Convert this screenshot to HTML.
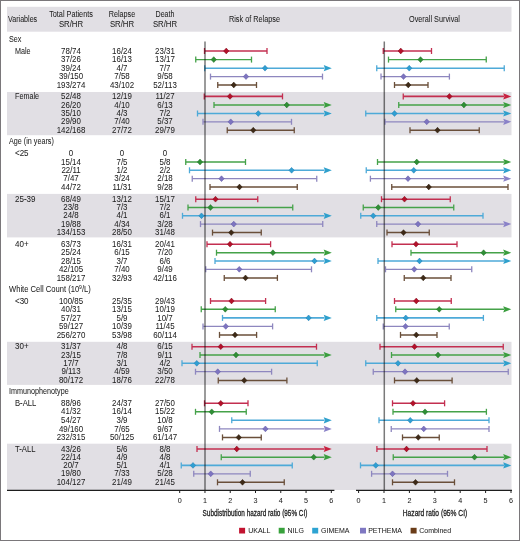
<!DOCTYPE html>
<html><head><meta charset="utf-8"><style>
html,body{margin:0;padding:0;}
body{width:520px;height:541px;position:relative;overflow:hidden;background:#fff;}
#frame{position:absolute;left:0;top:0;width:518px;height:539px;border:1px solid #7a777a;}
svg{position:absolute;left:0;top:0;}
.t,.tk,.lg,.ax{position:absolute;font-family:"Liberation Sans",sans-serif;color:#222;white-space:nowrap;line-height:0;height:0;-webkit-text-stroke:0.04px #222;}
.t{font-size:8.5px;}
.t.c,.tk.c{width:80px;text-align:center;}
.tk{font-size:7.2px;}
.lg{font-size:7px;}
.ax{font-size:9px;width:200px;text-align:center;transform:scaleX(0.71);-webkit-text-stroke:0.3px #222;}
sup{font-size:5.6px;vertical-align:0;position:relative;top:-2.8px;}
</style></head><body>
<svg width="520" height="541" viewBox="0 0 520 541">
<rect x="7" y="92.0" width="504.5" height="43.19999999999999" fill="#e1dfe4"/>
<rect x="7" y="193.9" width="504.5" height="43.5" fill="#e1dfe4"/>
<rect x="7" y="341.8" width="504.5" height="43.099999999999966" fill="#e1dfe4"/>
<rect x="7" y="443.7" width="504.5" height="46.30000000000001" fill="#e1dfe4"/>
<rect x="7" y="6.8" width="504.5" height="24.9" fill="#e1dfe4"/>
<line x1="204.5" y1="51" x2="267" y2="51" stroke="#c32f50" stroke-width="1.6"/>
<line x1="267" y1="48" x2="267" y2="54" stroke="#c32f50" stroke-width="1.3"/>
<line x1="204.5" y1="48" x2="204.5" y2="54" stroke="#c32f50" stroke-width="1.3"/>
<path d="M226.25 48.1 L228.918 51 L226.25 53.9 L223.582 51 Z" fill="#b5102a" stroke="#7a0a18" stroke-width="0.5"/>
<line x1="383.25" y1="51" x2="431.5" y2="51" stroke="#c32f50" stroke-width="1.6"/>
<line x1="431.5" y1="48" x2="431.5" y2="54" stroke="#c32f50" stroke-width="1.3"/>
<line x1="383.25" y1="48" x2="383.25" y2="54" stroke="#c32f50" stroke-width="1.3"/>
<path d="M400.75 48.1 L403.418 51 L400.75 53.9 L398.082 51 Z" fill="#b5102a" stroke="#7a0a18" stroke-width="0.5"/>
<line x1="195.75" y1="59.6" x2="251.5" y2="59.6" stroke="#45a249" stroke-width="1.4"/>
<line x1="251.5" y1="56.6" x2="251.5" y2="62.6" stroke="#45a249" stroke-width="1.3"/>
<line x1="195.75" y1="56.6" x2="195.75" y2="62.6" stroke="#45a249" stroke-width="1.3"/>
<path d="M213.75 56.7 L216.418 59.6 L213.75 62.5 L211.082 59.6 Z" fill="#2f8f35" stroke="#1f6a25" stroke-width="0.5"/>
<line x1="388.5" y1="59.6" x2="486.25" y2="59.6" stroke="#45a249" stroke-width="1.4"/>
<line x1="486.25" y1="56.6" x2="486.25" y2="62.6" stroke="#45a249" stroke-width="1.3"/>
<line x1="388.5" y1="56.6" x2="388.5" y2="62.6" stroke="#45a249" stroke-width="1.3"/>
<path d="M420.5 56.7 L423.168 59.6 L420.5 62.5 L417.832 59.6 Z" fill="#2f8f35" stroke="#1f6a25" stroke-width="0.5"/>
<line x1="204.75" y1="68.2" x2="324.5" y2="68.2" stroke="#4eaad8" stroke-width="1.6"/>
<path d="M331.8 68.2 L323.7 65.10000000000001 L324.9 68.2 L323.7 71.3 Z" fill="#2fa0cc"/>
<line x1="204.75" y1="65.2" x2="204.75" y2="71.2" stroke="#4eaad8" stroke-width="1.3"/>
<path d="M265 65.3 L267.668 68.2 L265 71.10000000000001 L262.332 68.2 Z" fill="#2f9fd2" stroke="#1f7ab0" stroke-width="0.5"/>
<line x1="376.75" y1="68.2" x2="504.25" y2="68.2" stroke="#4eaad8" stroke-width="1.6"/>
<line x1="504.25" y1="65.2" x2="504.25" y2="71.2" stroke="#4eaad8" stroke-width="1.3"/>
<line x1="376.75" y1="65.2" x2="376.75" y2="71.2" stroke="#4eaad8" stroke-width="1.3"/>
<path d="M409.25 65.3 L411.918 68.2 L409.25 71.10000000000001 L406.582 68.2 Z" fill="#2f9fd2" stroke="#1f7ab0" stroke-width="0.5"/>
<line x1="210.5" y1="76.6" x2="322.5" y2="76.6" stroke="#8e87bf" stroke-width="1.2"/>
<line x1="322.5" y1="73.6" x2="322.5" y2="79.6" stroke="#8e87bf" stroke-width="1.3"/>
<line x1="210.5" y1="73.6" x2="210.5" y2="79.6" stroke="#8e87bf" stroke-width="1.3"/>
<path d="M246 73.69999999999999 L248.668 76.6 L246 79.5 L243.332 76.6 Z" fill="#7d74c0" stroke="#5a52a0" stroke-width="0.5"/>
<line x1="381" y1="76.6" x2="449.4" y2="76.6" stroke="#8e87bf" stroke-width="1.2"/>
<line x1="449.4" y1="73.6" x2="449.4" y2="79.6" stroke="#8e87bf" stroke-width="1.3"/>
<line x1="381" y1="73.6" x2="381" y2="79.6" stroke="#8e87bf" stroke-width="1.3"/>
<path d="M403.5 73.69999999999999 L406.168 76.6 L403.5 79.5 L400.832 76.6 Z" fill="#7d74c0" stroke="#5a52a0" stroke-width="0.5"/>
<line x1="217.75" y1="85" x2="256.5" y2="85" stroke="#6a4f3a" stroke-width="1.5"/>
<line x1="256.5" y1="82" x2="256.5" y2="88" stroke="#6a4f3a" stroke-width="1.3"/>
<line x1="217.75" y1="82" x2="217.75" y2="88" stroke="#6a4f3a" stroke-width="1.3"/>
<path d="M233.75 82.1 L236.418 85 L233.75 87.9 L231.082 85 Z" fill="#3e2a17" stroke="#2a1a0a" stroke-width="0.5"/>
<line x1="394.5" y1="85" x2="428" y2="85" stroke="#6a4f3a" stroke-width="1.5"/>
<line x1="428" y1="82" x2="428" y2="88" stroke="#6a4f3a" stroke-width="1.3"/>
<line x1="394.5" y1="82" x2="394.5" y2="88" stroke="#6a4f3a" stroke-width="1.3"/>
<path d="M408.25 82.1 L410.918 85 L408.25 87.9 L405.582 85 Z" fill="#3e2a17" stroke="#2a1a0a" stroke-width="0.5"/>
<line x1="204.25" y1="96.4" x2="282.5" y2="96.4" stroke="#c32f50" stroke-width="1.6"/>
<line x1="282.5" y1="93.4" x2="282.5" y2="99.4" stroke="#c32f50" stroke-width="1.3"/>
<line x1="204.25" y1="93.4" x2="204.25" y2="99.4" stroke="#c32f50" stroke-width="1.3"/>
<path d="M230 93.5 L232.668 96.4 L230 99.30000000000001 L227.332 96.4 Z" fill="#b5102a" stroke="#7a0a18" stroke-width="0.5"/>
<line x1="403.25" y1="96.4" x2="504.0" y2="96.4" stroke="#c32f50" stroke-width="1.6"/>
<path d="M511.3 96.4 L503.2 93.30000000000001 L504.4 96.4 L503.2 99.5 Z" fill="#c8203e"/>
<line x1="403.25" y1="93.4" x2="403.25" y2="99.4" stroke="#c32f50" stroke-width="1.3"/>
<path d="M449.4 93.5 L452.068 96.4 L449.4 99.30000000000001 L446.73199999999997 96.4 Z" fill="#b5102a" stroke="#7a0a18" stroke-width="0.5"/>
<line x1="214" y1="105" x2="324.5" y2="105" stroke="#45a249" stroke-width="1.4"/>
<path d="M331.8 105 L323.7 101.9 L324.9 105 L323.7 108.1 Z" fill="#3a9e3e"/>
<line x1="214" y1="102" x2="214" y2="108" stroke="#45a249" stroke-width="1.3"/>
<path d="M286.75 102.1 L289.418 105 L286.75 107.9 L284.082 105 Z" fill="#2f8f35" stroke="#1f6a25" stroke-width="0.5"/>
<line x1="398.75" y1="105" x2="504.0" y2="105" stroke="#45a249" stroke-width="1.4"/>
<path d="M511.3 105 L503.2 101.9 L504.4 105 L503.2 108.1 Z" fill="#3a9e3e"/>
<line x1="398.75" y1="102" x2="398.75" y2="108" stroke="#45a249" stroke-width="1.3"/>
<path d="M463.9 102.1 L466.568 105 L463.9 107.9 L461.23199999999997 105 Z" fill="#2f8f35" stroke="#1f6a25" stroke-width="0.5"/>
<line x1="197.5" y1="113.5" x2="324.5" y2="113.5" stroke="#4eaad8" stroke-width="1.6"/>
<path d="M331.8 113.5 L323.7 110.4 L324.9 113.5 L323.7 116.6 Z" fill="#2fa0cc"/>
<line x1="197.5" y1="110.5" x2="197.5" y2="116.5" stroke="#4eaad8" stroke-width="1.3"/>
<path d="M258.25 110.6 L260.918 113.5 L258.25 116.4 L255.582 113.5 Z" fill="#2f9fd2" stroke="#1f7ab0" stroke-width="0.5"/>
<line x1="365.75" y1="113.5" x2="504.0" y2="113.5" stroke="#4eaad8" stroke-width="1.6"/>
<path d="M511.3 113.5 L503.2 110.4 L504.4 113.5 L503.2 116.6 Z" fill="#2fa0cc"/>
<line x1="365.75" y1="110.5" x2="365.75" y2="116.5" stroke="#4eaad8" stroke-width="1.3"/>
<path d="M394.5 110.6 L397.168 113.5 L394.5 116.4 L391.832 113.5 Z" fill="#2f9fd2" stroke="#1f7ab0" stroke-width="0.5"/>
<line x1="203" y1="121.8" x2="291.5" y2="121.8" stroke="#8e87bf" stroke-width="1.2"/>
<line x1="291.5" y1="118.8" x2="291.5" y2="124.8" stroke="#8e87bf" stroke-width="1.3"/>
<line x1="203" y1="118.8" x2="203" y2="124.8" stroke="#8e87bf" stroke-width="1.3"/>
<path d="M230.75 118.89999999999999 L233.418 121.8 L230.75 124.7 L228.082 121.8 Z" fill="#7d74c0" stroke="#5a52a0" stroke-width="0.5"/>
<line x1="385" y1="121.8" x2="504.0" y2="121.8" stroke="#8e87bf" stroke-width="1.2"/>
<path d="M511.3 121.8 L503.2 118.7 L504.4 121.8 L503.2 124.89999999999999 Z" fill="#8a82c8"/>
<line x1="385" y1="118.8" x2="385" y2="124.8" stroke="#8e87bf" stroke-width="1.3"/>
<path d="M426.75 118.89999999999999 L429.418 121.8 L426.75 124.7 L424.082 121.8 Z" fill="#7d74c0" stroke="#5a52a0" stroke-width="0.5"/>
<line x1="227.25" y1="130.2" x2="294.25" y2="130.2" stroke="#6a4f3a" stroke-width="1.5"/>
<line x1="294.25" y1="127.19999999999999" x2="294.25" y2="133.2" stroke="#6a4f3a" stroke-width="1.3"/>
<line x1="227.25" y1="127.19999999999999" x2="227.25" y2="133.2" stroke="#6a4f3a" stroke-width="1.3"/>
<path d="M253.25 127.29999999999998 L255.918 130.2 L253.25 133.1 L250.582 130.2 Z" fill="#3e2a17" stroke="#2a1a0a" stroke-width="0.5"/>
<line x1="410" y1="130.2" x2="479.25" y2="130.2" stroke="#6a4f3a" stroke-width="1.5"/>
<line x1="479.25" y1="127.19999999999999" x2="479.25" y2="133.2" stroke="#6a4f3a" stroke-width="1.3"/>
<line x1="410" y1="127.19999999999999" x2="410" y2="133.2" stroke="#6a4f3a" stroke-width="1.3"/>
<path d="M437.5 127.29999999999998 L440.168 130.2 L437.5 133.1 L434.832 130.2 Z" fill="#3e2a17" stroke="#2a1a0a" stroke-width="0.5"/>
<line x1="185.75" y1="162" x2="245.5" y2="162" stroke="#45a249" stroke-width="1.4"/>
<line x1="245.5" y1="159" x2="245.5" y2="165" stroke="#45a249" stroke-width="1.3"/>
<line x1="185.75" y1="159" x2="185.75" y2="165" stroke="#45a249" stroke-width="1.3"/>
<path d="M200 159.1 L202.668 162 L200 164.9 L197.332 162 Z" fill="#2f8f35" stroke="#1f6a25" stroke-width="0.5"/>
<line x1="377.5" y1="162" x2="504.0" y2="162" stroke="#45a249" stroke-width="1.4"/>
<path d="M511.3 162 L503.2 158.9 L504.4 162 L503.2 165.1 Z" fill="#3a9e3e"/>
<line x1="377.5" y1="159" x2="377.5" y2="165" stroke="#45a249" stroke-width="1.3"/>
<path d="M416.75 159.1 L419.418 162 L416.75 164.9 L414.082 162 Z" fill="#2f8f35" stroke="#1f6a25" stroke-width="0.5"/>
<line x1="189.5" y1="170.3" x2="324.5" y2="170.3" stroke="#4eaad8" stroke-width="1.6"/>
<path d="M331.8 170.3 L323.7 167.20000000000002 L324.9 170.3 L323.7 173.4 Z" fill="#2fa0cc"/>
<line x1="189.5" y1="167.3" x2="189.5" y2="173.3" stroke="#4eaad8" stroke-width="1.3"/>
<path d="M291.6 167.4 L294.26800000000003 170.3 L291.6 173.20000000000002 L288.932 170.3 Z" fill="#2f9fd2" stroke="#1f7ab0" stroke-width="0.5"/>
<line x1="366.25" y1="170.3" x2="504.0" y2="170.3" stroke="#4eaad8" stroke-width="1.6"/>
<path d="M511.3 170.3 L503.2 167.20000000000002 L504.4 170.3 L503.2 173.4 Z" fill="#2fa0cc"/>
<line x1="366.25" y1="167.3" x2="366.25" y2="173.3" stroke="#4eaad8" stroke-width="1.3"/>
<path d="M413.75 167.4 L416.418 170.3 L413.75 173.20000000000002 L411.082 170.3 Z" fill="#2f9fd2" stroke="#1f7ab0" stroke-width="0.5"/>
<line x1="192.25" y1="178.7" x2="316.75" y2="178.7" stroke="#8e87bf" stroke-width="1.2"/>
<line x1="316.75" y1="175.7" x2="316.75" y2="181.7" stroke="#8e87bf" stroke-width="1.3"/>
<line x1="192.25" y1="175.7" x2="192.25" y2="181.7" stroke="#8e87bf" stroke-width="1.3"/>
<path d="M221.5 175.79999999999998 L224.168 178.7 L221.5 181.6 L218.832 178.7 Z" fill="#7d74c0" stroke="#5a52a0" stroke-width="0.5"/>
<line x1="370.4" y1="178.7" x2="504.0" y2="178.7" stroke="#8e87bf" stroke-width="1.2"/>
<path d="M511.3 178.7 L503.2 175.6 L504.4 178.7 L503.2 181.79999999999998 Z" fill="#8a82c8"/>
<line x1="370.4" y1="175.7" x2="370.4" y2="181.7" stroke="#8e87bf" stroke-width="1.3"/>
<path d="M408 175.79999999999998 L410.668 178.7 L408 181.6 L405.332 178.7 Z" fill="#7d74c0" stroke="#5a52a0" stroke-width="0.5"/>
<line x1="210" y1="187" x2="297.25" y2="187" stroke="#6a4f3a" stroke-width="1.5"/>
<line x1="297.25" y1="184" x2="297.25" y2="190" stroke="#6a4f3a" stroke-width="1.3"/>
<line x1="210" y1="184" x2="210" y2="190" stroke="#6a4f3a" stroke-width="1.3"/>
<path d="M239.5 184.1 L242.168 187 L239.5 189.9 L236.832 187 Z" fill="#3e2a17" stroke="#2a1a0a" stroke-width="0.5"/>
<line x1="391.75" y1="187" x2="508" y2="187" stroke="#6a4f3a" stroke-width="1.5"/>
<line x1="508" y1="184" x2="508" y2="190" stroke="#6a4f3a" stroke-width="1.3"/>
<line x1="391.75" y1="184" x2="391.75" y2="190" stroke="#6a4f3a" stroke-width="1.3"/>
<path d="M428.75 184.1 L431.418 187 L428.75 189.9 L426.082 187 Z" fill="#3e2a17" stroke="#2a1a0a" stroke-width="0.5"/>
<line x1="195.75" y1="199.2" x2="257.75" y2="199.2" stroke="#c32f50" stroke-width="1.6"/>
<line x1="257.75" y1="196.2" x2="257.75" y2="202.2" stroke="#c32f50" stroke-width="1.3"/>
<line x1="195.75" y1="196.2" x2="195.75" y2="202.2" stroke="#c32f50" stroke-width="1.3"/>
<path d="M215.5 196.29999999999998 L218.168 199.2 L215.5 202.1 L212.832 199.2 Z" fill="#b5102a" stroke="#7a0a18" stroke-width="0.5"/>
<line x1="381.5" y1="199.2" x2="450.25" y2="199.2" stroke="#c32f50" stroke-width="1.6"/>
<line x1="450.25" y1="196.2" x2="450.25" y2="202.2" stroke="#c32f50" stroke-width="1.3"/>
<line x1="381.5" y1="196.2" x2="381.5" y2="202.2" stroke="#c32f50" stroke-width="1.3"/>
<path d="M404.5 196.29999999999998 L407.168 199.2 L404.5 202.1 L401.832 199.2 Z" fill="#b5102a" stroke="#7a0a18" stroke-width="0.5"/>
<line x1="188" y1="207.5" x2="292.75" y2="207.5" stroke="#45a249" stroke-width="1.4"/>
<line x1="292.75" y1="204.5" x2="292.75" y2="210.5" stroke="#45a249" stroke-width="1.3"/>
<line x1="188" y1="204.5" x2="188" y2="210.5" stroke="#45a249" stroke-width="1.3"/>
<path d="M210.5 204.6 L213.168 207.5 L210.5 210.4 L207.832 207.5 Z" fill="#2f8f35" stroke="#1f6a25" stroke-width="0.5"/>
<line x1="363.25" y1="207.5" x2="453.75" y2="207.5" stroke="#45a249" stroke-width="1.4"/>
<line x1="453.75" y1="204.5" x2="453.75" y2="210.5" stroke="#45a249" stroke-width="1.3"/>
<line x1="363.25" y1="204.5" x2="363.25" y2="210.5" stroke="#45a249" stroke-width="1.3"/>
<path d="M378.25 204.6 L380.918 207.5 L378.25 210.4 L375.582 207.5 Z" fill="#2f8f35" stroke="#1f6a25" stroke-width="0.5"/>
<line x1="182.5" y1="215.8" x2="324.5" y2="215.8" stroke="#4eaad8" stroke-width="1.6"/>
<path d="M331.8 215.8 L323.7 212.70000000000002 L324.9 215.8 L323.7 218.9 Z" fill="#2fa0cc"/>
<line x1="182.5" y1="212.8" x2="182.5" y2="218.8" stroke="#4eaad8" stroke-width="1.3"/>
<path d="M201.5 212.9 L204.168 215.8 L201.5 218.70000000000002 L198.832 215.8 Z" fill="#2f9fd2" stroke="#1f7ab0" stroke-width="0.5"/>
<line x1="360.75" y1="215.8" x2="483" y2="215.8" stroke="#4eaad8" stroke-width="1.6"/>
<line x1="483" y1="212.8" x2="483" y2="218.8" stroke="#4eaad8" stroke-width="1.3"/>
<line x1="360.75" y1="212.8" x2="360.75" y2="218.8" stroke="#4eaad8" stroke-width="1.3"/>
<path d="M373.25 212.9 L375.918 215.8 L373.25 218.70000000000002 L370.582 215.8 Z" fill="#2f9fd2" stroke="#1f7ab0" stroke-width="0.5"/>
<line x1="200.5" y1="224.1" x2="322.75" y2="224.1" stroke="#8e87bf" stroke-width="1.2"/>
<line x1="322.75" y1="221.1" x2="322.75" y2="227.1" stroke="#8e87bf" stroke-width="1.3"/>
<line x1="200.5" y1="221.1" x2="200.5" y2="227.1" stroke="#8e87bf" stroke-width="1.3"/>
<path d="M233.75 221.2 L236.418 224.1 L233.75 227.0 L231.082 224.1 Z" fill="#7d74c0" stroke="#5a52a0" stroke-width="0.5"/>
<line x1="376.75" y1="224.1" x2="504.0" y2="224.1" stroke="#8e87bf" stroke-width="1.2"/>
<path d="M511.3 224.1 L503.2 221.0 L504.4 224.1 L503.2 227.2 Z" fill="#8a82c8"/>
<line x1="376.75" y1="221.1" x2="376.75" y2="227.1" stroke="#8e87bf" stroke-width="1.3"/>
<path d="M418 221.2 L420.668 224.1 L418 227.0 L415.332 224.1 Z" fill="#7d74c0" stroke="#5a52a0" stroke-width="0.5"/>
<line x1="212.5" y1="232.6" x2="261.25" y2="232.6" stroke="#6a4f3a" stroke-width="1.5"/>
<line x1="261.25" y1="229.6" x2="261.25" y2="235.6" stroke="#6a4f3a" stroke-width="1.3"/>
<line x1="212.5" y1="229.6" x2="212.5" y2="235.6" stroke="#6a4f3a" stroke-width="1.3"/>
<path d="M231.25 229.7 L233.918 232.6 L231.25 235.5 L228.582 232.6 Z" fill="#3e2a17" stroke="#2a1a0a" stroke-width="0.5"/>
<line x1="387" y1="232.6" x2="429.25" y2="232.6" stroke="#6a4f3a" stroke-width="1.5"/>
<line x1="429.25" y1="229.6" x2="429.25" y2="235.6" stroke="#6a4f3a" stroke-width="1.3"/>
<line x1="387" y1="229.6" x2="387" y2="235.6" stroke="#6a4f3a" stroke-width="1.3"/>
<path d="M403.5 229.7 L406.168 232.6 L403.5 235.5 L400.832 232.6 Z" fill="#3e2a17" stroke="#2a1a0a" stroke-width="0.5"/>
<line x1="207" y1="244.2" x2="270.6" y2="244.2" stroke="#c32f50" stroke-width="1.6"/>
<line x1="270.6" y1="241.2" x2="270.6" y2="247.2" stroke="#c32f50" stroke-width="1.3"/>
<line x1="207" y1="241.2" x2="207" y2="247.2" stroke="#c32f50" stroke-width="1.3"/>
<path d="M230 241.29999999999998 L232.668 244.2 L230 247.1 L227.332 244.2 Z" fill="#b5102a" stroke="#7a0a18" stroke-width="0.5"/>
<line x1="392" y1="244.2" x2="457" y2="244.2" stroke="#c32f50" stroke-width="1.6"/>
<line x1="457" y1="241.2" x2="457" y2="247.2" stroke="#c32f50" stroke-width="1.3"/>
<line x1="392" y1="241.2" x2="392" y2="247.2" stroke="#c32f50" stroke-width="1.3"/>
<path d="M416 241.29999999999998 L418.668 244.2 L416 247.1 L413.332 244.2 Z" fill="#b5102a" stroke="#7a0a18" stroke-width="0.5"/>
<line x1="216.5" y1="252.7" x2="324.5" y2="252.7" stroke="#45a249" stroke-width="1.4"/>
<path d="M331.8 252.7 L323.7 249.6 L324.9 252.7 L323.7 255.79999999999998 Z" fill="#3a9e3e"/>
<line x1="216.5" y1="249.7" x2="216.5" y2="255.7" stroke="#45a249" stroke-width="1.3"/>
<path d="M272.9 249.79999999999998 L275.568 252.7 L272.9 255.6 L270.23199999999997 252.7 Z" fill="#2f8f35" stroke="#1f6a25" stroke-width="0.5"/>
<line x1="411" y1="252.7" x2="504.0" y2="252.7" stroke="#45a249" stroke-width="1.4"/>
<path d="M511.3 252.7 L503.2 249.6 L504.4 252.7 L503.2 255.79999999999998 Z" fill="#3a9e3e"/>
<line x1="411" y1="249.7" x2="411" y2="255.7" stroke="#45a249" stroke-width="1.3"/>
<path d="M483.6 249.79999999999998 L486.26800000000003 252.7 L483.6 255.6 L480.932 252.7 Z" fill="#2f8f35" stroke="#1f6a25" stroke-width="0.5"/>
<line x1="215" y1="261" x2="324.5" y2="261" stroke="#4eaad8" stroke-width="1.6"/>
<path d="M331.8 261 L323.7 257.9 L324.9 261 L323.7 264.1 Z" fill="#2fa0cc"/>
<line x1="215" y1="258" x2="215" y2="264" stroke="#4eaad8" stroke-width="1.3"/>
<path d="M314.5 258.1 L317.168 261 L314.5 263.9 L311.832 261 Z" fill="#2f9fd2" stroke="#1f7ab0" stroke-width="0.5"/>
<line x1="378" y1="261" x2="504.0" y2="261" stroke="#4eaad8" stroke-width="1.6"/>
<path d="M511.3 261 L503.2 257.9 L504.4 261 L503.2 264.1 Z" fill="#2fa0cc"/>
<line x1="378" y1="258" x2="378" y2="264" stroke="#4eaad8" stroke-width="1.3"/>
<path d="M419.5 258.1 L422.168 261 L419.5 263.9 L416.832 261 Z" fill="#2f9fd2" stroke="#1f7ab0" stroke-width="0.5"/>
<line x1="205.75" y1="269.3" x2="311.5" y2="269.3" stroke="#8e87bf" stroke-width="1.2"/>
<line x1="311.5" y1="266.3" x2="311.5" y2="272.3" stroke="#8e87bf" stroke-width="1.3"/>
<line x1="205.75" y1="266.3" x2="205.75" y2="272.3" stroke="#8e87bf" stroke-width="1.3"/>
<path d="M239.25 266.40000000000003 L241.918 269.3 L239.25 272.2 L236.582 269.3 Z" fill="#7d74c0" stroke="#5a52a0" stroke-width="0.5"/>
<line x1="385.5" y1="269.3" x2="471.75" y2="269.3" stroke="#8e87bf" stroke-width="1.2"/>
<line x1="471.75" y1="266.3" x2="471.75" y2="272.3" stroke="#8e87bf" stroke-width="1.3"/>
<line x1="385.5" y1="266.3" x2="385.5" y2="272.3" stroke="#8e87bf" stroke-width="1.3"/>
<path d="M414.25 266.40000000000003 L416.918 269.3 L414.25 272.2 L411.582 269.3 Z" fill="#7d74c0" stroke="#5a52a0" stroke-width="0.5"/>
<line x1="224.25" y1="277.9" x2="277.4" y2="277.9" stroke="#6a4f3a" stroke-width="1.5"/>
<line x1="277.4" y1="274.9" x2="277.4" y2="280.9" stroke="#6a4f3a" stroke-width="1.3"/>
<line x1="224.25" y1="274.9" x2="224.25" y2="280.9" stroke="#6a4f3a" stroke-width="1.3"/>
<path d="M245.5 275.0 L248.168 277.9 L245.5 280.79999999999995 L242.832 277.9 Z" fill="#3e2a17" stroke="#2a1a0a" stroke-width="0.5"/>
<line x1="404.25" y1="277.9" x2="451" y2="277.9" stroke="#6a4f3a" stroke-width="1.5"/>
<line x1="451" y1="274.9" x2="451" y2="280.9" stroke="#6a4f3a" stroke-width="1.3"/>
<line x1="404.25" y1="274.9" x2="404.25" y2="280.9" stroke="#6a4f3a" stroke-width="1.3"/>
<path d="M423.25 275.0 L425.918 277.9 L423.25 280.79999999999995 L420.582 277.9 Z" fill="#3e2a17" stroke="#2a1a0a" stroke-width="0.5"/>
<line x1="210.5" y1="301" x2="265.6" y2="301" stroke="#c32f50" stroke-width="1.6"/>
<line x1="265.6" y1="298" x2="265.6" y2="304" stroke="#c32f50" stroke-width="1.3"/>
<line x1="210.5" y1="298" x2="210.5" y2="304" stroke="#c32f50" stroke-width="1.3"/>
<path d="M231.5 298.1 L234.168 301 L231.5 303.9 L228.832 301 Z" fill="#b5102a" stroke="#7a0a18" stroke-width="0.5"/>
<line x1="394.5" y1="301" x2="451.25" y2="301" stroke="#c32f50" stroke-width="1.6"/>
<line x1="451.25" y1="298" x2="451.25" y2="304" stroke="#c32f50" stroke-width="1.3"/>
<line x1="394.5" y1="298" x2="394.5" y2="304" stroke="#c32f50" stroke-width="1.3"/>
<path d="M416.25 298.1 L418.918 301 L416.25 303.9 L413.582 301 Z" fill="#b5102a" stroke="#7a0a18" stroke-width="0.5"/>
<line x1="201.25" y1="309.3" x2="275.25" y2="309.3" stroke="#45a249" stroke-width="1.4"/>
<line x1="275.25" y1="306.3" x2="275.25" y2="312.3" stroke="#45a249" stroke-width="1.3"/>
<line x1="201.25" y1="306.3" x2="201.25" y2="312.3" stroke="#45a249" stroke-width="1.3"/>
<path d="M225.25 306.40000000000003 L227.918 309.3 L225.25 312.2 L222.582 309.3 Z" fill="#2f8f35" stroke="#1f6a25" stroke-width="0.5"/>
<line x1="395.75" y1="309.3" x2="504.0" y2="309.3" stroke="#45a249" stroke-width="1.4"/>
<path d="M511.3 309.3 L503.2 306.2 L504.4 309.3 L503.2 312.40000000000003 Z" fill="#3a9e3e"/>
<line x1="395.75" y1="306.3" x2="395.75" y2="312.3" stroke="#45a249" stroke-width="1.3"/>
<path d="M439.25 306.40000000000003 L441.918 309.3 L439.25 312.2 L436.582 309.3 Z" fill="#2f8f35" stroke="#1f6a25" stroke-width="0.5"/>
<line x1="222.5" y1="317.9" x2="324.5" y2="317.9" stroke="#4eaad8" stroke-width="1.6"/>
<path d="M331.8 317.9 L323.7 314.79999999999995 L324.9 317.9 L323.7 321.0 Z" fill="#2fa0cc"/>
<line x1="222.5" y1="314.9" x2="222.5" y2="320.9" stroke="#4eaad8" stroke-width="1.3"/>
<path d="M308.6 315.0 L311.26800000000003 317.9 L308.6 320.79999999999995 L305.932 317.9 Z" fill="#2f9fd2" stroke="#1f7ab0" stroke-width="0.5"/>
<line x1="376.75" y1="317.9" x2="483.4" y2="317.9" stroke="#4eaad8" stroke-width="1.6"/>
<line x1="483.4" y1="314.9" x2="483.4" y2="320.9" stroke="#4eaad8" stroke-width="1.3"/>
<line x1="376.75" y1="314.9" x2="376.75" y2="320.9" stroke="#4eaad8" stroke-width="1.3"/>
<path d="M405.75 315.0 L408.418 317.9 L405.75 320.79999999999995 L403.082 317.9 Z" fill="#2f9fd2" stroke="#1f7ab0" stroke-width="0.5"/>
<line x1="203" y1="326.4" x2="272.6" y2="326.4" stroke="#8e87bf" stroke-width="1.2"/>
<line x1="272.6" y1="323.4" x2="272.6" y2="329.4" stroke="#8e87bf" stroke-width="1.3"/>
<line x1="203" y1="323.4" x2="203" y2="329.4" stroke="#8e87bf" stroke-width="1.3"/>
<path d="M225.75 323.5 L228.418 326.4 L225.75 329.29999999999995 L223.082 326.4 Z" fill="#7d74c0" stroke="#5a52a0" stroke-width="0.5"/>
<line x1="383.25" y1="326.4" x2="449.25" y2="326.4" stroke="#8e87bf" stroke-width="1.2"/>
<line x1="449.25" y1="323.4" x2="449.25" y2="329.4" stroke="#8e87bf" stroke-width="1.3"/>
<line x1="383.25" y1="323.4" x2="383.25" y2="329.4" stroke="#8e87bf" stroke-width="1.3"/>
<path d="M405.5 323.5 L408.168 326.4 L405.5 329.29999999999995 L402.832 326.4 Z" fill="#7d74c0" stroke="#5a52a0" stroke-width="0.5"/>
<line x1="219.5" y1="334.9" x2="256.6" y2="334.9" stroke="#6a4f3a" stroke-width="1.5"/>
<line x1="256.6" y1="331.9" x2="256.6" y2="337.9" stroke="#6a4f3a" stroke-width="1.3"/>
<line x1="219.5" y1="331.9" x2="219.5" y2="337.9" stroke="#6a4f3a" stroke-width="1.3"/>
<path d="M235 332.0 L237.668 334.9 L235 337.79999999999995 L232.332 334.9 Z" fill="#3e2a17" stroke="#2a1a0a" stroke-width="0.5"/>
<line x1="400.5" y1="334.9" x2="437" y2="334.9" stroke="#6a4f3a" stroke-width="1.5"/>
<line x1="437" y1="331.9" x2="437" y2="337.9" stroke="#6a4f3a" stroke-width="1.3"/>
<line x1="400.5" y1="331.9" x2="400.5" y2="337.9" stroke="#6a4f3a" stroke-width="1.3"/>
<path d="M416.25 332.0 L418.918 334.9 L416.25 337.79999999999995 L413.582 334.9 Z" fill="#3e2a17" stroke="#2a1a0a" stroke-width="0.5"/>
<line x1="192" y1="346.7" x2="316.5" y2="346.7" stroke="#c32f50" stroke-width="1.6"/>
<line x1="316.5" y1="343.7" x2="316.5" y2="349.7" stroke="#c32f50" stroke-width="1.3"/>
<line x1="192" y1="343.7" x2="192" y2="349.7" stroke="#c32f50" stroke-width="1.3"/>
<path d="M220.75 343.8 L223.418 346.7 L220.75 349.59999999999997 L218.082 346.7 Z" fill="#b5102a" stroke="#7a0a18" stroke-width="0.5"/>
<line x1="380" y1="346.7" x2="503.25" y2="346.7" stroke="#c32f50" stroke-width="1.6"/>
<line x1="503.25" y1="343.7" x2="503.25" y2="349.7" stroke="#c32f50" stroke-width="1.3"/>
<line x1="380" y1="343.7" x2="380" y2="349.7" stroke="#c32f50" stroke-width="1.3"/>
<path d="M414.5 343.8 L417.168 346.7 L414.5 349.59999999999997 L411.832 346.7 Z" fill="#b5102a" stroke="#7a0a18" stroke-width="0.5"/>
<line x1="200" y1="355" x2="324.5" y2="355" stroke="#45a249" stroke-width="1.4"/>
<path d="M331.8 355 L323.7 351.9 L324.9 355 L323.7 358.1 Z" fill="#3a9e3e"/>
<line x1="200" y1="352" x2="200" y2="358" stroke="#45a249" stroke-width="1.3"/>
<path d="M236 352.1 L238.668 355 L236 357.9 L233.332 355 Z" fill="#2f8f35" stroke="#1f6a25" stroke-width="0.5"/>
<line x1="391.5" y1="355" x2="504.0" y2="355" stroke="#45a249" stroke-width="1.4"/>
<path d="M511.3 355 L503.2 351.9 L504.4 355 L503.2 358.1 Z" fill="#3a9e3e"/>
<line x1="391.5" y1="352" x2="391.5" y2="358" stroke="#45a249" stroke-width="1.3"/>
<path d="M438 352.1 L440.668 355 L438 357.9 L435.332 355 Z" fill="#2f8f35" stroke="#1f6a25" stroke-width="0.5"/>
<line x1="182" y1="363.3" x2="317.25" y2="363.3" stroke="#4eaad8" stroke-width="1.6"/>
<line x1="317.25" y1="360.3" x2="317.25" y2="366.3" stroke="#4eaad8" stroke-width="1.3"/>
<line x1="182" y1="360.3" x2="182" y2="366.3" stroke="#4eaad8" stroke-width="1.3"/>
<path d="M196.75 360.40000000000003 L199.418 363.3 L196.75 366.2 L194.082 363.3 Z" fill="#2f9fd2" stroke="#1f7ab0" stroke-width="0.5"/>
<line x1="365.75" y1="363.3" x2="504.0" y2="363.3" stroke="#4eaad8" stroke-width="1.6"/>
<path d="M511.3 363.3 L503.2 360.2 L504.4 363.3 L503.2 366.40000000000003 Z" fill="#2fa0cc"/>
<line x1="365.75" y1="360.3" x2="365.75" y2="366.3" stroke="#4eaad8" stroke-width="1.3"/>
<path d="M398 360.40000000000003 L400.668 363.3 L398 366.2 L395.332 363.3 Z" fill="#2f9fd2" stroke="#1f7ab0" stroke-width="0.5"/>
<line x1="195.5" y1="371.7" x2="271.6" y2="371.7" stroke="#8e87bf" stroke-width="1.2"/>
<line x1="271.6" y1="368.7" x2="271.6" y2="374.7" stroke="#8e87bf" stroke-width="1.3"/>
<line x1="195.5" y1="368.7" x2="195.5" y2="374.7" stroke="#8e87bf" stroke-width="1.3"/>
<path d="M217.75 368.8 L220.418 371.7 L217.75 374.59999999999997 L215.082 371.7 Z" fill="#7d74c0" stroke="#5a52a0" stroke-width="0.5"/>
<line x1="373.25" y1="371.7" x2="508.25" y2="371.7" stroke="#8e87bf" stroke-width="1.2"/>
<line x1="508.25" y1="368.7" x2="508.25" y2="374.7" stroke="#8e87bf" stroke-width="1.3"/>
<line x1="373.25" y1="368.7" x2="373.25" y2="374.7" stroke="#8e87bf" stroke-width="1.3"/>
<path d="M405 368.8 L407.668 371.7 L405 374.59999999999997 L402.332 371.7 Z" fill="#7d74c0" stroke="#5a52a0" stroke-width="0.5"/>
<line x1="218.25" y1="380.4" x2="286.9" y2="380.4" stroke="#6a4f3a" stroke-width="1.5"/>
<line x1="286.9" y1="377.4" x2="286.9" y2="383.4" stroke="#6a4f3a" stroke-width="1.3"/>
<line x1="218.25" y1="377.4" x2="218.25" y2="383.4" stroke="#6a4f3a" stroke-width="1.3"/>
<path d="M244.25 377.5 L246.918 380.4 L244.25 383.29999999999995 L241.582 380.4 Z" fill="#3e2a17" stroke="#2a1a0a" stroke-width="0.5"/>
<line x1="394.5" y1="380.4" x2="452.1" y2="380.4" stroke="#6a4f3a" stroke-width="1.5"/>
<line x1="452.1" y1="377.4" x2="452.1" y2="383.4" stroke="#6a4f3a" stroke-width="1.3"/>
<line x1="394.5" y1="377.4" x2="394.5" y2="383.4" stroke="#6a4f3a" stroke-width="1.3"/>
<path d="M416.75 377.5 L419.418 380.4 L416.75 383.29999999999995 L414.082 380.4 Z" fill="#3e2a17" stroke="#2a1a0a" stroke-width="0.5"/>
<line x1="204.5" y1="403.3" x2="248" y2="403.3" stroke="#c32f50" stroke-width="1.6"/>
<line x1="248" y1="400.3" x2="248" y2="406.3" stroke="#c32f50" stroke-width="1.3"/>
<line x1="204.5" y1="400.3" x2="204.5" y2="406.3" stroke="#c32f50" stroke-width="1.3"/>
<path d="M220.75 400.40000000000003 L223.418 403.3 L220.75 406.2 L218.082 403.3 Z" fill="#b5102a" stroke="#7a0a18" stroke-width="0.5"/>
<line x1="392.5" y1="403.3" x2="444.6" y2="403.3" stroke="#c32f50" stroke-width="1.6"/>
<line x1="444.6" y1="400.3" x2="444.6" y2="406.3" stroke="#c32f50" stroke-width="1.3"/>
<line x1="392.5" y1="400.3" x2="392.5" y2="406.3" stroke="#c32f50" stroke-width="1.3"/>
<path d="M413 400.40000000000003 L415.668 403.3 L413 406.2 L410.332 403.3 Z" fill="#b5102a" stroke="#7a0a18" stroke-width="0.5"/>
<line x1="195.5" y1="411.8" x2="246.25" y2="411.8" stroke="#45a249" stroke-width="1.4"/>
<line x1="246.25" y1="408.8" x2="246.25" y2="414.8" stroke="#45a249" stroke-width="1.3"/>
<line x1="195.5" y1="408.8" x2="195.5" y2="414.8" stroke="#45a249" stroke-width="1.3"/>
<path d="M211.75 408.90000000000003 L214.418 411.8 L211.75 414.7 L209.082 411.8 Z" fill="#2f8f35" stroke="#1f6a25" stroke-width="0.5"/>
<line x1="393" y1="411.8" x2="486.4" y2="411.8" stroke="#45a249" stroke-width="1.4"/>
<line x1="486.4" y1="408.8" x2="486.4" y2="414.8" stroke="#45a249" stroke-width="1.3"/>
<line x1="393" y1="408.8" x2="393" y2="414.8" stroke="#45a249" stroke-width="1.3"/>
<path d="M425 408.90000000000003 L427.668 411.8 L425 414.7 L422.332 411.8 Z" fill="#2f8f35" stroke="#1f6a25" stroke-width="0.5"/>
<line x1="231.75" y1="420.3" x2="324.5" y2="420.3" stroke="#4eaad8" stroke-width="1.6"/>
<path d="M331.8 420.3 L323.7 417.2 L324.9 420.3 L323.7 423.40000000000003 Z" fill="#2fa0cc"/>
<line x1="231.75" y1="417.3" x2="231.75" y2="423.3" stroke="#4eaad8" stroke-width="1.3"/>
<line x1="379" y1="420.3" x2="489" y2="420.3" stroke="#4eaad8" stroke-width="1.6"/>
<line x1="489" y1="417.3" x2="489" y2="423.3" stroke="#4eaad8" stroke-width="1.3"/>
<line x1="379" y1="417.3" x2="379" y2="423.3" stroke="#4eaad8" stroke-width="1.3"/>
<path d="M410.25 417.40000000000003 L412.918 420.3 L410.25 423.2 L407.582 420.3 Z" fill="#2f9fd2" stroke="#1f7ab0" stroke-width="0.5"/>
<line x1="219.5" y1="428.9" x2="324.5" y2="428.9" stroke="#8e87bf" stroke-width="1.2"/>
<path d="M331.8 428.9 L323.7 425.79999999999995 L324.9 428.9 L323.7 432.0 Z" fill="#8a82c8"/>
<line x1="219.5" y1="425.9" x2="219.5" y2="431.9" stroke="#8e87bf" stroke-width="1.3"/>
<path d="M265.4 426.0 L268.068 428.9 L265.4 431.79999999999995 L262.73199999999997 428.9 Z" fill="#7d74c0" stroke="#5a52a0" stroke-width="0.5"/>
<line x1="391.25" y1="428.9" x2="489" y2="428.9" stroke="#8e87bf" stroke-width="1.2"/>
<line x1="489" y1="425.9" x2="489" y2="431.9" stroke="#8e87bf" stroke-width="1.3"/>
<line x1="391.25" y1="425.9" x2="391.25" y2="431.9" stroke="#8e87bf" stroke-width="1.3"/>
<path d="M423.75 426.0 L426.418 428.9 L423.75 431.79999999999995 L421.082 428.9 Z" fill="#7d74c0" stroke="#5a52a0" stroke-width="0.5"/>
<line x1="222.5" y1="437.4" x2="261.25" y2="437.4" stroke="#6a4f3a" stroke-width="1.5"/>
<line x1="261.25" y1="434.4" x2="261.25" y2="440.4" stroke="#6a4f3a" stroke-width="1.3"/>
<line x1="222.5" y1="434.4" x2="222.5" y2="440.4" stroke="#6a4f3a" stroke-width="1.3"/>
<path d="M238.75 434.5 L241.418 437.4 L238.75 440.29999999999995 L236.082 437.4 Z" fill="#3e2a17" stroke="#2a1a0a" stroke-width="0.5"/>
<line x1="402.5" y1="437.4" x2="439.25" y2="437.4" stroke="#6a4f3a" stroke-width="1.5"/>
<line x1="439.25" y1="434.4" x2="439.25" y2="440.4" stroke="#6a4f3a" stroke-width="1.3"/>
<line x1="402.5" y1="434.4" x2="402.5" y2="440.4" stroke="#6a4f3a" stroke-width="1.3"/>
<path d="M418.25 434.5 L420.918 437.4 L418.25 440.29999999999995 L415.582 437.4 Z" fill="#3e2a17" stroke="#2a1a0a" stroke-width="0.5"/>
<line x1="197" y1="449" x2="324.5" y2="449" stroke="#c32f50" stroke-width="1.6"/>
<path d="M331.8 449 L323.7 445.9 L324.9 449 L323.7 452.1 Z" fill="#c8203e"/>
<line x1="197" y1="446" x2="197" y2="452" stroke="#c32f50" stroke-width="1.3"/>
<path d="M236.75 446.1 L239.418 449 L236.75 451.9 L234.082 449 Z" fill="#b5102a" stroke="#7a0a18" stroke-width="0.5"/>
<line x1="376.9" y1="449" x2="487" y2="449" stroke="#c32f50" stroke-width="1.6"/>
<line x1="487" y1="446" x2="487" y2="452" stroke="#c32f50" stroke-width="1.3"/>
<line x1="376.9" y1="446" x2="376.9" y2="452" stroke="#c32f50" stroke-width="1.3"/>
<path d="M406.5 446.1 L409.168 449 L406.5 451.9 L403.832 449 Z" fill="#b5102a" stroke="#7a0a18" stroke-width="0.5"/>
<line x1="221.25" y1="457.2" x2="324.5" y2="457.2" stroke="#45a249" stroke-width="1.4"/>
<path d="M331.8 457.2 L323.7 454.09999999999997 L324.9 457.2 L323.7 460.3 Z" fill="#3a9e3e"/>
<line x1="221.25" y1="454.2" x2="221.25" y2="460.2" stroke="#45a249" stroke-width="1.3"/>
<path d="M313.75 454.3 L316.418 457.2 L313.75 460.09999999999997 L311.082 457.2 Z" fill="#2f8f35" stroke="#1f6a25" stroke-width="0.5"/>
<line x1="393.25" y1="457.2" x2="504.0" y2="457.2" stroke="#45a249" stroke-width="1.4"/>
<path d="M511.3 457.2 L503.2 454.09999999999997 L504.4 457.2 L503.2 460.3 Z" fill="#3a9e3e"/>
<line x1="393.25" y1="454.2" x2="393.25" y2="460.2" stroke="#45a249" stroke-width="1.3"/>
<path d="M474.5 454.3 L477.168 457.2 L474.5 460.09999999999997 L471.832 457.2 Z" fill="#2f8f35" stroke="#1f6a25" stroke-width="0.5"/>
<line x1="181.25" y1="465.4" x2="292.25" y2="465.4" stroke="#4eaad8" stroke-width="1.6"/>
<line x1="292.25" y1="462.4" x2="292.25" y2="468.4" stroke="#4eaad8" stroke-width="1.3"/>
<line x1="181.25" y1="462.4" x2="181.25" y2="468.4" stroke="#4eaad8" stroke-width="1.3"/>
<path d="M193 462.5 L195.668 465.4 L193 468.29999999999995 L190.332 465.4 Z" fill="#2f9fd2" stroke="#1f7ab0" stroke-width="0.5"/>
<line x1="360.5" y1="465.4" x2="504.0" y2="465.4" stroke="#4eaad8" stroke-width="1.6"/>
<path d="M511.3 465.4 L503.2 462.29999999999995 L504.4 465.4 L503.2 468.5 Z" fill="#2fa0cc"/>
<line x1="360.5" y1="462.4" x2="360.5" y2="468.4" stroke="#4eaad8" stroke-width="1.3"/>
<path d="M375.75 462.5 L378.418 465.4 L375.75 468.29999999999995 L373.082 465.4 Z" fill="#2f9fd2" stroke="#1f7ab0" stroke-width="0.5"/>
<line x1="193.75" y1="473.8" x2="250.25" y2="473.8" stroke="#8e87bf" stroke-width="1.2"/>
<line x1="250.25" y1="470.8" x2="250.25" y2="476.8" stroke="#8e87bf" stroke-width="1.3"/>
<line x1="193.75" y1="470.8" x2="193.75" y2="476.8" stroke="#8e87bf" stroke-width="1.3"/>
<path d="M210.75 470.90000000000003 L213.418 473.8 L210.75 476.7 L208.082 473.8 Z" fill="#7d74c0" stroke="#5a52a0" stroke-width="0.5"/>
<line x1="371.6" y1="473.8" x2="447.5" y2="473.8" stroke="#8e87bf" stroke-width="1.2"/>
<line x1="447.5" y1="470.8" x2="447.5" y2="476.8" stroke="#8e87bf" stroke-width="1.3"/>
<line x1="371.6" y1="470.8" x2="371.6" y2="476.8" stroke="#8e87bf" stroke-width="1.3"/>
<path d="M392.5 470.90000000000003 L395.168 473.8 L392.5 476.7 L389.832 473.8 Z" fill="#7d74c0" stroke="#5a52a0" stroke-width="0.5"/>
<line x1="217.5" y1="482.3" x2="284.25" y2="482.3" stroke="#6a4f3a" stroke-width="1.5"/>
<line x1="284.25" y1="479.3" x2="284.25" y2="485.3" stroke="#6a4f3a" stroke-width="1.3"/>
<line x1="217.5" y1="479.3" x2="217.5" y2="485.3" stroke="#6a4f3a" stroke-width="1.3"/>
<path d="M242.5 479.40000000000003 L245.168 482.3 L242.5 485.2 L239.832 482.3 Z" fill="#3e2a17" stroke="#2a1a0a" stroke-width="0.5"/>
<line x1="392.5" y1="482.3" x2="454.5" y2="482.3" stroke="#6a4f3a" stroke-width="1.5"/>
<line x1="454.5" y1="479.3" x2="454.5" y2="485.3" stroke="#6a4f3a" stroke-width="1.3"/>
<line x1="392.5" y1="479.3" x2="392.5" y2="485.3" stroke="#6a4f3a" stroke-width="1.3"/>
<path d="M415.5 479.40000000000003 L418.168 482.3 L415.5 485.2 L412.832 482.3 Z" fill="#3e2a17" stroke="#2a1a0a" stroke-width="0.5"/>
<line x1="205" y1="41.6" x2="205" y2="490" stroke="#7a7a7a" stroke-width="1.5" style="mix-blend-mode:multiply"/>
<line x1="384.3" y1="41.6" x2="384.3" y2="490" stroke="#7a7a7a" stroke-width="1.5" style="mix-blend-mode:multiply"/>
<line x1="7" y1="490.4" x2="334.4" y2="490.4" stroke="#1e1e1e" stroke-width="1.3"/>
<line x1="356" y1="490.4" x2="512" y2="490.4" stroke="#1e1e1e" stroke-width="1.3"/>
<line x1="179.70" y1="490" x2="179.70" y2="493" stroke="#1e1e1e" stroke-width="1"/>
<line x1="358.60" y1="490" x2="358.60" y2="493" stroke="#1e1e1e" stroke-width="1"/>
<line x1="204.97" y1="490" x2="204.97" y2="493" stroke="#1e1e1e" stroke-width="1"/>
<line x1="384.00" y1="490" x2="384.00" y2="493" stroke="#1e1e1e" stroke-width="1"/>
<line x1="230.24" y1="490" x2="230.24" y2="493" stroke="#1e1e1e" stroke-width="1"/>
<line x1="409.40" y1="490" x2="409.40" y2="493" stroke="#1e1e1e" stroke-width="1"/>
<line x1="255.51" y1="490" x2="255.51" y2="493" stroke="#1e1e1e" stroke-width="1"/>
<line x1="434.80" y1="490" x2="434.80" y2="493" stroke="#1e1e1e" stroke-width="1"/>
<line x1="280.78" y1="490" x2="280.78" y2="493" stroke="#1e1e1e" stroke-width="1"/>
<line x1="460.20" y1="490" x2="460.20" y2="493" stroke="#1e1e1e" stroke-width="1"/>
<line x1="306.05" y1="490" x2="306.05" y2="493" stroke="#1e1e1e" stroke-width="1"/>
<line x1="485.60" y1="490" x2="485.60" y2="493" stroke="#1e1e1e" stroke-width="1"/>
<line x1="331.32" y1="490" x2="331.32" y2="493" stroke="#1e1e1e" stroke-width="1"/>
<line x1="511.00" y1="490" x2="511.00" y2="493" stroke="#1e1e1e" stroke-width="1"/>
<rect x="239.1" y="527.8" width="6" height="5.7" fill="#c21330"/>
<rect x="278.7" y="527.8" width="6" height="5.7" fill="#38a23c"/>
<rect x="312.2" y="527.8" width="6" height="5.7" fill="#2da3d2"/>
<rect x="360.0" y="527.8" width="6" height="5.7" fill="#7f78c2"/>
<rect x="410.6" y="527.8" width="6" height="5.7" fill="#6a3c18"/>
</svg>
<div class="t" style="left:15.20px;top:51.10px;transform-origin:0 0;transform:scaleX(0.8470588235294118)">Male</div>
<div class="t c" style="left:30.70px;top:51.10px;transform:scaleX(0.93)">78/74</div>
<div class="t c" style="left:82.40px;top:51.10px;transform:scaleX(0.93)">16/24</div>
<div class="t c" style="left:124.50px;top:51.10px;transform:scaleX(0.93)">23/31</div>
<div class="t c" style="left:30.70px;top:59.10px;transform:scaleX(0.93)">37/26</div>
<div class="t c" style="left:82.40px;top:59.10px;transform:scaleX(0.93)">16/13</div>
<div class="t c" style="left:124.50px;top:59.10px;transform:scaleX(0.93)">13/17</div>
<div class="t c" style="left:30.70px;top:68.10px;transform:scaleX(0.93)">39/24</div>
<div class="t c" style="left:82.40px;top:68.10px;transform:scaleX(0.93)">4/7</div>
<div class="t c" style="left:124.50px;top:68.10px;transform:scaleX(0.93)">7/7</div>
<div class="t c" style="left:30.70px;top:76.10px;transform:scaleX(0.93)">39/150</div>
<div class="t c" style="left:82.40px;top:76.10px;transform:scaleX(0.93)">7/58</div>
<div class="t c" style="left:124.50px;top:76.10px;transform:scaleX(0.93)">9/58</div>
<div class="t c" style="left:30.70px;top:85.10px;transform:scaleX(0.93)">193/274</div>
<div class="t c" style="left:82.40px;top:85.10px;transform:scaleX(0.93)">43/102</div>
<div class="t c" style="left:124.50px;top:85.10px;transform:scaleX(0.93)">52/113</div>
<div class="t" style="left:15.20px;top:96.10px;transform-origin:0 0;transform:scaleX(0.8470588235294118)">Female</div>
<div class="t c" style="left:30.70px;top:96.10px;transform:scaleX(0.93)">52/48</div>
<div class="t c" style="left:82.40px;top:96.10px;transform:scaleX(0.93)">12/19</div>
<div class="t c" style="left:124.50px;top:96.10px;transform:scaleX(0.93)">11/27</div>
<div class="t c" style="left:30.70px;top:105.10px;transform:scaleX(0.93)">26/20</div>
<div class="t c" style="left:82.40px;top:105.10px;transform:scaleX(0.93)">4/10</div>
<div class="t c" style="left:124.50px;top:105.10px;transform:scaleX(0.93)">6/13</div>
<div class="t c" style="left:30.70px;top:113.10px;transform:scaleX(0.93)">35/10</div>
<div class="t c" style="left:82.40px;top:113.10px;transform:scaleX(0.93)">4/3</div>
<div class="t c" style="left:124.50px;top:113.10px;transform:scaleX(0.93)">7/2</div>
<div class="t c" style="left:30.70px;top:121.10px;transform:scaleX(0.93)">29/90</div>
<div class="t c" style="left:82.40px;top:121.10px;transform:scaleX(0.93)">7/40</div>
<div class="t c" style="left:124.50px;top:121.10px;transform:scaleX(0.93)">5/37</div>
<div class="t c" style="left:30.70px;top:130.10px;transform:scaleX(0.93)">142/168</div>
<div class="t c" style="left:82.40px;top:130.10px;transform:scaleX(0.93)">27/72</div>
<div class="t c" style="left:124.50px;top:130.10px;transform:scaleX(0.93)">29/79</div>
<div class="t" style="left:15.20px;top:153.10px;transform-origin:0 0;transform:scaleX(0.9411764705882353)"><25</div>
<div class="t c" style="left:30.70px;top:153.10px;transform:scaleX(0.93)">0</div>
<div class="t c" style="left:82.40px;top:153.10px;transform:scaleX(0.93)">0</div>
<div class="t c" style="left:124.50px;top:153.10px;transform:scaleX(0.93)">0</div>
<div class="t c" style="left:30.70px;top:162.10px;transform:scaleX(0.93)">15/14</div>
<div class="t c" style="left:82.40px;top:162.10px;transform:scaleX(0.93)">7/5</div>
<div class="t c" style="left:124.50px;top:162.10px;transform:scaleX(0.93)">5/8</div>
<div class="t c" style="left:30.70px;top:170.10px;transform:scaleX(0.93)">22/11</div>
<div class="t c" style="left:82.40px;top:170.10px;transform:scaleX(0.93)">1/2</div>
<div class="t c" style="left:124.50px;top:170.10px;transform:scaleX(0.93)">2/2</div>
<div class="t c" style="left:30.70px;top:178.10px;transform:scaleX(0.93)">7/47</div>
<div class="t c" style="left:82.40px;top:178.10px;transform:scaleX(0.93)">3/24</div>
<div class="t c" style="left:124.50px;top:178.10px;transform:scaleX(0.93)">2/18</div>
<div class="t c" style="left:30.70px;top:187.10px;transform:scaleX(0.93)">44/72</div>
<div class="t c" style="left:82.40px;top:187.10px;transform:scaleX(0.93)">11/31</div>
<div class="t c" style="left:124.50px;top:187.10px;transform:scaleX(0.93)">9/28</div>
<div class="t" style="left:15.20px;top:199.10px;transform-origin:0 0;transform:scaleX(0.9411764705882353)">25-39</div>
<div class="t c" style="left:30.70px;top:199.10px;transform:scaleX(0.93)">68/49</div>
<div class="t c" style="left:82.40px;top:199.10px;transform:scaleX(0.93)">13/12</div>
<div class="t c" style="left:124.50px;top:199.10px;transform:scaleX(0.93)">15/17</div>
<div class="t c" style="left:30.70px;top:207.10px;transform:scaleX(0.93)">23/8</div>
<div class="t c" style="left:82.40px;top:207.10px;transform:scaleX(0.93)">7/3</div>
<div class="t c" style="left:124.50px;top:207.10px;transform:scaleX(0.93)">7/2</div>
<div class="t c" style="left:30.70px;top:215.10px;transform:scaleX(0.93)">24/8</div>
<div class="t c" style="left:82.40px;top:215.10px;transform:scaleX(0.93)">4/1</div>
<div class="t c" style="left:124.50px;top:215.10px;transform:scaleX(0.93)">6/1</div>
<div class="t c" style="left:30.70px;top:224.10px;transform:scaleX(0.93)">19/88</div>
<div class="t c" style="left:82.40px;top:224.10px;transform:scaleX(0.93)">4/34</div>
<div class="t c" style="left:124.50px;top:224.10px;transform:scaleX(0.93)">3/28</div>
<div class="t c" style="left:30.70px;top:232.10px;transform:scaleX(0.93)">134/153</div>
<div class="t c" style="left:82.40px;top:232.10px;transform:scaleX(0.93)">28/50</div>
<div class="t c" style="left:124.50px;top:232.10px;transform:scaleX(0.93)">31/48</div>
<div class="t" style="left:15.20px;top:244.10px;transform-origin:0 0;transform:scaleX(0.9411764705882353)">40+</div>
<div class="t c" style="left:30.70px;top:244.10px;transform:scaleX(0.93)">63/73</div>
<div class="t c" style="left:82.40px;top:244.10px;transform:scaleX(0.93)">16/31</div>
<div class="t c" style="left:124.50px;top:244.10px;transform:scaleX(0.93)">20/41</div>
<div class="t c" style="left:30.70px;top:252.10px;transform:scaleX(0.93)">25/24</div>
<div class="t c" style="left:82.40px;top:252.10px;transform:scaleX(0.93)">6/15</div>
<div class="t c" style="left:124.50px;top:252.10px;transform:scaleX(0.93)">7/20</div>
<div class="t c" style="left:30.70px;top:261.10px;transform:scaleX(0.93)">28/15</div>
<div class="t c" style="left:82.40px;top:261.10px;transform:scaleX(0.93)">3/7</div>
<div class="t c" style="left:124.50px;top:261.10px;transform:scaleX(0.93)">6/6</div>
<div class="t c" style="left:30.70px;top:269.10px;transform:scaleX(0.93)">42/105</div>
<div class="t c" style="left:82.40px;top:269.10px;transform:scaleX(0.93)">7/40</div>
<div class="t c" style="left:124.50px;top:269.10px;transform:scaleX(0.93)">9/49</div>
<div class="t c" style="left:30.70px;top:278.10px;transform:scaleX(0.93)">158/217</div>
<div class="t c" style="left:82.40px;top:278.10px;transform:scaleX(0.93)">32/93</div>
<div class="t c" style="left:124.50px;top:278.10px;transform:scaleX(0.93)">42/116</div>
<div class="t" style="left:15.20px;top:301.10px;transform-origin:0 0;transform:scaleX(0.9411764705882353)"><30</div>
<div class="t c" style="left:30.70px;top:301.10px;transform:scaleX(0.93)">100/85</div>
<div class="t c" style="left:82.40px;top:301.10px;transform:scaleX(0.93)">25/35</div>
<div class="t c" style="left:124.50px;top:301.10px;transform:scaleX(0.93)">29/43</div>
<div class="t c" style="left:30.70px;top:309.10px;transform:scaleX(0.93)">40/31</div>
<div class="t c" style="left:82.40px;top:309.10px;transform:scaleX(0.93)">13/15</div>
<div class="t c" style="left:124.50px;top:309.10px;transform:scaleX(0.93)">10/19</div>
<div class="t c" style="left:30.70px;top:318.10px;transform:scaleX(0.93)">57/27</div>
<div class="t c" style="left:82.40px;top:318.10px;transform:scaleX(0.93)">5/9</div>
<div class="t c" style="left:124.50px;top:318.10px;transform:scaleX(0.93)">10/7</div>
<div class="t c" style="left:30.70px;top:326.10px;transform:scaleX(0.93)">59/127</div>
<div class="t c" style="left:82.40px;top:326.10px;transform:scaleX(0.93)">10/39</div>
<div class="t c" style="left:124.50px;top:326.10px;transform:scaleX(0.93)">11/45</div>
<div class="t c" style="left:30.70px;top:335.10px;transform:scaleX(0.93)">256/270</div>
<div class="t c" style="left:82.40px;top:335.10px;transform:scaleX(0.93)">53/98</div>
<div class="t c" style="left:124.50px;top:335.10px;transform:scaleX(0.93)">60/114</div>
<div class="t" style="left:15.20px;top:346.10px;transform-origin:0 0;transform:scaleX(0.9411764705882353)">30+</div>
<div class="t c" style="left:30.70px;top:346.10px;transform:scaleX(0.93)">31/37</div>
<div class="t c" style="left:82.40px;top:346.10px;transform:scaleX(0.93)">4/8</div>
<div class="t c" style="left:124.50px;top:346.10px;transform:scaleX(0.93)">6/15</div>
<div class="t c" style="left:30.70px;top:355.10px;transform:scaleX(0.93)">23/15</div>
<div class="t c" style="left:82.40px;top:355.10px;transform:scaleX(0.93)">7/8</div>
<div class="t c" style="left:124.50px;top:355.10px;transform:scaleX(0.93)">9/11</div>
<div class="t c" style="left:30.70px;top:363.10px;transform:scaleX(0.93)">17/7</div>
<div class="t c" style="left:82.40px;top:363.10px;transform:scaleX(0.93)">3/1</div>
<div class="t c" style="left:124.50px;top:363.10px;transform:scaleX(0.93)">4/2</div>
<div class="t c" style="left:30.70px;top:371.10px;transform:scaleX(0.93)">9/113</div>
<div class="t c" style="left:82.40px;top:371.10px;transform:scaleX(0.93)">4/59</div>
<div class="t c" style="left:124.50px;top:371.10px;transform:scaleX(0.93)">3/50</div>
<div class="t c" style="left:30.70px;top:380.10px;transform:scaleX(0.93)">80/172</div>
<div class="t c" style="left:82.40px;top:380.10px;transform:scaleX(0.93)">18/76</div>
<div class="t c" style="left:124.50px;top:380.10px;transform:scaleX(0.93)">22/78</div>
<div class="t" style="left:15.20px;top:403.10px;transform-origin:0 0;transform:scaleX(0.9035294117647058)">B-ALL</div>
<div class="t c" style="left:30.70px;top:403.10px;transform:scaleX(0.93)">88/96</div>
<div class="t c" style="left:82.40px;top:403.10px;transform:scaleX(0.93)">24/37</div>
<div class="t c" style="left:124.50px;top:403.10px;transform:scaleX(0.93)">27/50</div>
<div class="t c" style="left:30.70px;top:411.10px;transform:scaleX(0.93)">41/32</div>
<div class="t c" style="left:82.40px;top:411.10px;transform:scaleX(0.93)">16/14</div>
<div class="t c" style="left:124.50px;top:411.10px;transform:scaleX(0.93)">15/22</div>
<div class="t c" style="left:30.70px;top:420.10px;transform:scaleX(0.93)">54/27</div>
<div class="t c" style="left:82.40px;top:420.10px;transform:scaleX(0.93)">3/9</div>
<div class="t c" style="left:124.50px;top:420.10px;transform:scaleX(0.93)">10/8</div>
<div class="t c" style="left:30.70px;top:429.10px;transform:scaleX(0.93)">49/160</div>
<div class="t c" style="left:82.40px;top:429.10px;transform:scaleX(0.93)">7/65</div>
<div class="t c" style="left:124.50px;top:429.10px;transform:scaleX(0.93)">9/67</div>
<div class="t c" style="left:30.70px;top:437.10px;transform:scaleX(0.93)">232/315</div>
<div class="t c" style="left:82.40px;top:437.10px;transform:scaleX(0.93)">50/125</div>
<div class="t c" style="left:124.50px;top:437.10px;transform:scaleX(0.93)">61/147</div>
<div class="t" style="left:15.20px;top:449.10px;transform-origin:0 0;transform:scaleX(0.9035294117647058)">T-ALL</div>
<div class="t c" style="left:30.70px;top:449.10px;transform:scaleX(0.93)">43/26</div>
<div class="t c" style="left:82.40px;top:449.10px;transform:scaleX(0.93)">5/6</div>
<div class="t c" style="left:124.50px;top:449.10px;transform:scaleX(0.93)">8/8</div>
<div class="t c" style="left:30.70px;top:457.10px;transform:scaleX(0.93)">22/14</div>
<div class="t c" style="left:82.40px;top:457.10px;transform:scaleX(0.93)">4/9</div>
<div class="t c" style="left:124.50px;top:457.10px;transform:scaleX(0.93)">4/8</div>
<div class="t c" style="left:30.70px;top:465.10px;transform:scaleX(0.93)">20/7</div>
<div class="t c" style="left:82.40px;top:465.10px;transform:scaleX(0.93)">5/1</div>
<div class="t c" style="left:124.50px;top:465.10px;transform:scaleX(0.93)">4/1</div>
<div class="t c" style="left:30.70px;top:473.10px;transform:scaleX(0.93)">19/80</div>
<div class="t c" style="left:82.40px;top:473.10px;transform:scaleX(0.93)">7/33</div>
<div class="t c" style="left:124.50px;top:473.10px;transform:scaleX(0.93)">5/28</div>
<div class="t c" style="left:30.70px;top:482.10px;transform:scaleX(0.93)">104/127</div>
<div class="t c" style="left:82.40px;top:482.10px;transform:scaleX(0.93)">21/49</div>
<div class="t c" style="left:124.50px;top:482.10px;transform:scaleX(0.93)">21/45</div>
<div class="t" style="left:9.30px;top:39.10px;transform-origin:0 0;transform:scaleX(0.8470588235294118)">Sex</div>
<div class="t" style="left:9.30px;top:141.10px;transform-origin:0 0;transform:scaleX(0.8470588235294118)">Age (in years)</div>
<div class="t" style="left:9.30px;top:289.10px;transform-origin:0 0;transform:scaleX(0.8941176470588235)">White Cell Count (10<sup>9</sup>/L)</div>
<div class="t" style="left:9.30px;top:391.10px;transform-origin:0 0;transform:scaleX(0.8470588235294118)">Immunophenotype</div>
<div class="t" style="left:7.80px;top:19.10px;transform-origin:0 0;transform:scaleX(0.8376470588235294)">Variables</div>
<div class="t c" style="left:30.80px;top:14.10px;transform:scaleX(0.8564705882352941)">Total Patients</div>
<div class="t c" style="left:30.60px;top:24.10px;transform:scaleX(0.9129411764705881)">SR/HR</div>
<div class="t c" style="left:82.40px;top:14.10px;transform:scaleX(0.8470588235294118)">Relapse</div>
<div class="t c" style="left:82.40px;top:24.10px;transform:scaleX(0.9129411764705881)">SR/HR</div>
<div class="t c" style="left:124.50px;top:14.10px;transform:scaleX(0.8376470588235294)">Death</div>
<div class="t c" style="left:124.50px;top:24.10px;transform:scaleX(0.9129411764705881)">SR/HR</div>
<div class="t" style="left:229.00px;top:19.10px;transform-origin:0 0;transform:scaleX(0.8564705882352941)">Risk of Relapse</div>
<div class="t" style="left:409.20px;top:19.10px;transform-origin:0 0;transform:scaleX(0.8564705882352941)">Overall Survival</div>
<div class="tk c" style="left:139.70px;top:500.60px">0</div>
<div class="tk c" style="left:318.60px;top:500.60px">0</div>
<div class="tk c" style="left:164.97px;top:500.60px">1</div>
<div class="tk c" style="left:344.00px;top:500.60px">1</div>
<div class="tk c" style="left:190.24px;top:500.60px">2</div>
<div class="tk c" style="left:369.40px;top:500.60px">2</div>
<div class="tk c" style="left:215.51px;top:500.60px">3</div>
<div class="tk c" style="left:394.80px;top:500.60px">3</div>
<div class="tk c" style="left:240.78px;top:500.60px">4</div>
<div class="tk c" style="left:420.20px;top:500.60px">4</div>
<div class="tk c" style="left:266.05px;top:500.60px">5</div>
<div class="tk c" style="left:445.60px;top:500.60px">5</div>
<div class="tk c" style="left:291.32px;top:500.60px">6</div>
<div class="tk c" style="left:471.00px;top:500.60px">6</div>
<div class="ax" style="left:155.3px;top:513.10px">Subdistribution hazard ratio (95% CI)</div>
<div class="ax" style="transform:scaleX(0.74);left:334.7px;top:513.10px">Hazard ratio (95% CI)</div>
<div class="lg" style="left:248.20px;top:530.60px;transform-origin:0 0">UKALL</div>
<div class="lg" style="left:287.50px;top:530.60px;transform-origin:0 0">NILG</div>
<div class="lg" style="left:321.00px;top:530.60px;transform-origin:0 0">GIMEMA</div>
<div class="lg" style="left:368.20px;top:530.60px;transform-origin:0 0">PETHEMA</div>
<div class="lg" style="left:419.20px;top:530.60px;transform-origin:0 0">Combined</div>
<div id="frame"></div>
</body></html>
